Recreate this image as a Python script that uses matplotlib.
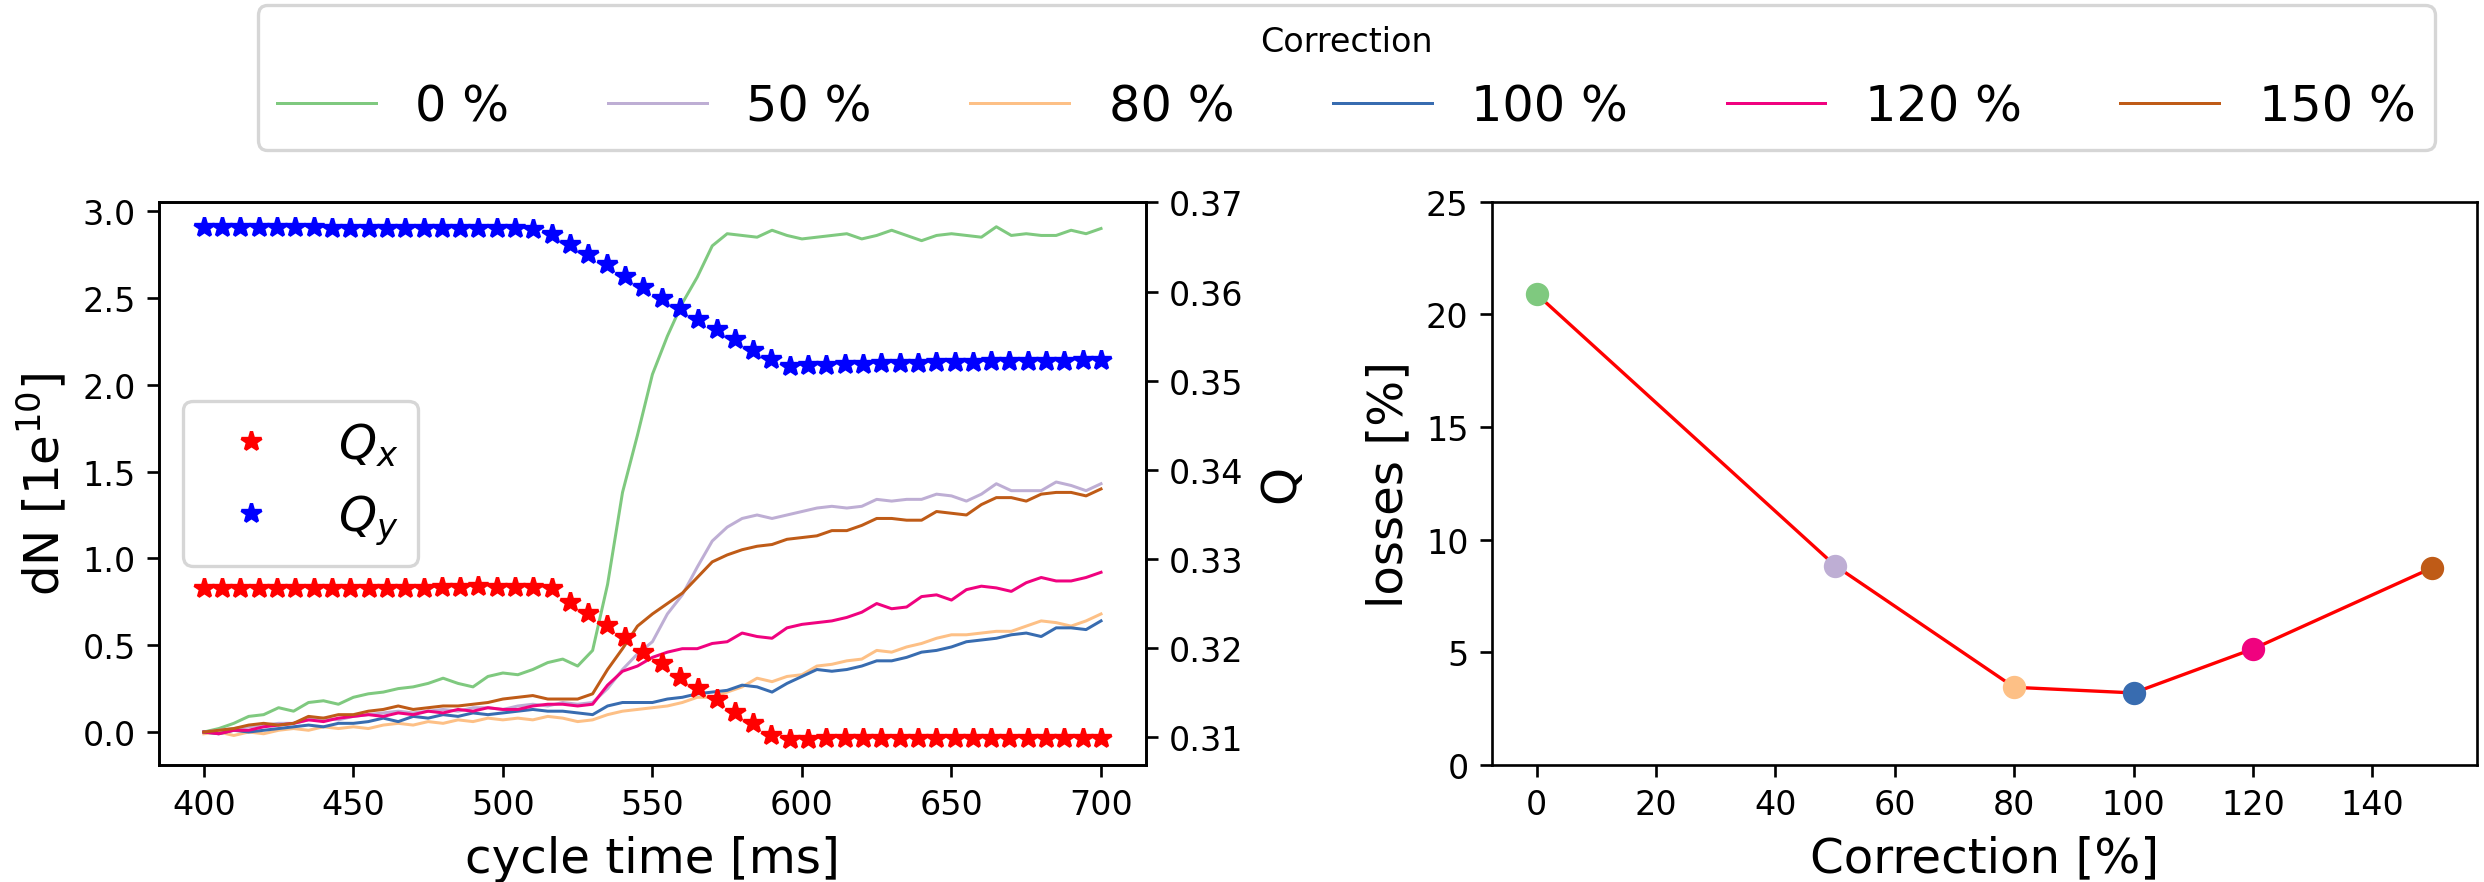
import matplotlib
matplotlib.use("Agg")
import matplotlib.pyplot as plt
import numpy as np

# --- data ---
LABELS = ["0 %", "50 %", "80 %", "100 %", "120 %", "150 %"]
COLORS = ["#7fc97f", "#beaed4", "#fdc086", "#386cb0", "#f0027f", "#bf5b17"]

# cycle time grid for the dN curves (ms)
T = list(range(400, 705, 5))

DN_0 = [0.00, 0.02, 0.05, 0.09, 0.10, 0.14, 0.12, 0.17, 0.18, 0.16, 0.20, 0.22, 0.23, 0.25, 0.26, 0.28,
        0.31, 0.28, 0.26, 0.32, 0.34, 0.33, 0.36, 0.40, 0.42, 0.38, 0.47, 0.85, 1.38, 1.71, 2.06, 2.28,
        2.47, 2.62, 2.80, 2.87, 2.86, 2.85, 2.89, 2.86, 2.84, 2.85, 2.86, 2.87, 2.84, 2.86, 2.89, 2.86,
        2.83, 2.86, 2.87, 2.86, 2.85, 2.91, 2.86, 2.87, 2.86, 2.86, 2.89, 2.87, 2.90]
DN_50 = [0.00, 0.01, 0.02, 0.03, 0.04, 0.05, 0.05, 0.07, 0.08, 0.07, 0.09, 0.10, 0.11, 0.12, 0.11, 0.12,
         0.13, 0.12, 0.14, 0.14, 0.13, 0.15, 0.16, 0.15, 0.17, 0.16, 0.17, 0.25, 0.36, 0.45, 0.52, 0.68,
         0.79, 0.95, 1.10, 1.18, 1.23, 1.25, 1.23, 1.25, 1.27, 1.29, 1.30, 1.29, 1.30, 1.34, 1.33, 1.34,
         1.34, 1.37, 1.36, 1.33, 1.37, 1.43, 1.39, 1.39, 1.39, 1.44, 1.42, 1.39, 1.43]
DN_80 = [-0.01, 0.00, -0.02, 0.00, -0.01, 0.01, 0.02, 0.01, 0.03, 0.02, 0.03, 0.02, 0.04, 0.05, 0.04, 0.06,
         0.05, 0.07, 0.06, 0.08, 0.07, 0.08, 0.07, 0.09, 0.08, 0.06, 0.07, 0.10, 0.12, 0.13, 0.14, 0.15,
         0.17, 0.20, 0.20, 0.23, 0.26, 0.31, 0.29, 0.32, 0.33, 0.38, 0.39, 0.41, 0.42, 0.47, 0.46, 0.49,
         0.51, 0.54, 0.56, 0.56, 0.57, 0.58, 0.58, 0.61, 0.64, 0.63, 0.61, 0.64, 0.68]
DN_100 = [0.00, -0.01, 0.01, 0.00, 0.01, 0.02, 0.03, 0.04, 0.03, 0.05, 0.05, 0.06, 0.08, 0.06, 0.09, 0.08,
          0.10, 0.09, 0.11, 0.10, 0.11, 0.12, 0.13, 0.12, 0.12, 0.11, 0.10, 0.15, 0.17, 0.17, 0.17, 0.19,
          0.20, 0.22, 0.23, 0.24, 0.27, 0.26, 0.23, 0.28, 0.32, 0.36, 0.35, 0.36, 0.38, 0.41, 0.41, 0.43,
          0.46, 0.47, 0.49, 0.52, 0.53, 0.54, 0.56, 0.57, 0.55, 0.60, 0.60, 0.59, 0.64]
DN_120 = [0.00, -0.01, 0.01, 0.01, 0.03, 0.04, 0.05, 0.07, 0.06, 0.08, 0.09, 0.10, 0.09, 0.11, 0.10, 0.12,
          0.11, 0.13, 0.12, 0.14, 0.13, 0.13, 0.15, 0.16, 0.16, 0.15, 0.16, 0.27, 0.35, 0.38, 0.43, 0.46,
          0.48, 0.48, 0.51, 0.52, 0.57, 0.55, 0.54, 0.60, 0.62, 0.63, 0.64, 0.66, 0.69, 0.74, 0.71, 0.72,
          0.78, 0.79, 0.76, 0.82, 0.84, 0.83, 0.81, 0.86, 0.89, 0.87, 0.87, 0.89, 0.92]
DN_150 = [0.00, 0.01, 0.02, 0.04, 0.05, 0.04, 0.05, 0.09, 0.08, 0.10, 0.10, 0.12, 0.13, 0.15, 0.13, 0.14,
          0.15, 0.15, 0.16, 0.17, 0.19, 0.20, 0.21, 0.19, 0.19, 0.19, 0.22, 0.36, 0.48, 0.61, 0.68, 0.74,
          0.80, 0.89, 0.98, 1.02, 1.05, 1.07, 1.08, 1.11, 1.12, 1.13, 1.16, 1.16, 1.19, 1.23, 1.23, 1.22,
          1.22, 1.27, 1.26, 1.25, 1.31, 1.35, 1.35, 1.33, 1.37, 1.38, 1.38, 1.36, 1.40]
DN = [DN_0, DN_50, DN_80, DN_100, DN_120, DN_150]

# tune measurement points (50 samples over 400..700 ms)
T_Q = np.linspace(400, 700, 50)
QX = [0.3268, 0.3268, 0.3268, 0.3268, 0.3268, 0.3268, 0.3268, 0.3268, 0.3268, 0.3268,
      0.3268, 0.3268, 0.3268, 0.3269, 0.3269, 0.3270, 0.3269, 0.3269, 0.3269, 0.3267,
      0.3252, 0.3239, 0.3226, 0.3212, 0.3196, 0.3183, 0.3168, 0.3155, 0.3143, 0.3128,
      0.3116, 0.3102, 0.3098, 0.3098, 0.3099, 0.3099, 0.3099, 0.3099, 0.3099, 0.3099,
      0.3099, 0.3099, 0.3099, 0.3099, 0.3099, 0.3099, 0.3099, 0.3099, 0.3099, 0.3099]
QY = [0.3672, 0.3672, 0.3672, 0.3672, 0.3672, 0.3672, 0.3672, 0.3671, 0.3671, 0.3671,
      0.3671, 0.3671, 0.3671, 0.3671, 0.3671, 0.3671, 0.3671, 0.3671, 0.3670, 0.3665,
      0.3653, 0.3642, 0.3631, 0.3617, 0.3605, 0.3593, 0.3582, 0.3569, 0.3558, 0.3547,
      0.3534, 0.3524, 0.3517, 0.3518, 0.3518, 0.3519, 0.3519, 0.3520, 0.3520, 0.3520,
      0.3521, 0.3521, 0.3521, 0.3522, 0.3522, 0.3522, 0.3522, 0.3522, 0.3523, 0.3523]

# losses vs correction strength
CORR = [0, 50, 80, 100, 120, 150]
LOSSES = [20.9, 8.85, 3.45, 3.2, 5.15, 8.75]

fig = plt.figure(figsize=(10.35, 3.679), dpi=240)
ax = fig.add_axes([0.0640, 0.1325, 0.3973, 0.6379])
ax2 = ax.twinx()
axr = fig.add_axes([0.6006, 0.1325, 0.3965, 0.6379])

handles = []
for vals, c, lab in zip(DN, COLORS, LABELS):
    h, = ax.plot(T, vals, color=c, lw=0.9, label=lab)
    handles.append(h)
ax.set_xlim(385, 715)
ax.set_ylim(-0.19, 3.054)
ax.set_xlabel("cycle time [ms]", fontsize=14.5)
ax.set_ylabel(r"dN [1e$^{10}$]", fontsize=14.5)

ax2.plot(T_Q, QX, "*", color="red", ms=6, label=r"$Q_x$")
ax2.plot(T_Q, QY, "*", color="blue", ms=6, label=r"$Q_y$")
ax2.set_ylim(0.30689, 0.37007)
ax2.set_ylabel("Q", fontsize=14.5)
ax2.legend(loc="center left", fontsize=14.5)

axr.plot(CORR, LOSSES, color="red", lw=1.0, zorder=1)
for x, y, c in zip(CORR, LOSSES, COLORS):
    axr.plot(x, y, "o", color=c, ms=6, zorder=2)
axr.set_xlim(-7.5, 157.5)
axr.set_ylim(0, 25)
axr.set_xlabel("Correction [%]", fontsize=14.5)
axr.set_ylabel("losses [%]", fontsize=14.5)

fig.legend(handles, LABELS, loc="upper center", bbox_to_anchor=(0.542, 0.9932),
           borderaxespad=0, ncol=6, fontsize=14.8, title="Correction", title_fontsize=10)

fig.savefig("out.png", dpi=240)
